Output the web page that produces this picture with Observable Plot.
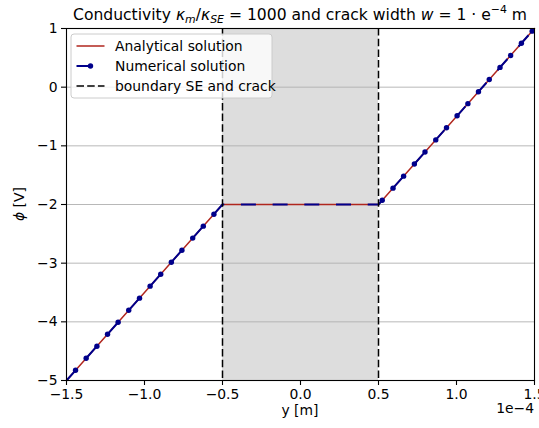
<!DOCTYPE html>
<html>
<head>
<meta charset="utf-8">
<script src="https://cdn.jsdelivr.net/npm/d3@7"></script>
<script src="https://cdn.jsdelivr.net/npm/@observablehq/plot@0.6"></script>
<style>
  body { margin: 0; background: #fff; }
  #chart { position: relative; width: 539px; height: 428px; }
  #chart svg { display: block; }
</style>
</head>
<body>
<div id="chart"></div>
<script>
// Axis ticks (y in units of 1e-4 m, potential in V)
const xTicks = [-1.5, -1.0, -0.5, 0.0, 0.5, 1.0, 1.5];
const yTicks = [-5, -4, -3, -2, -1, 0, 1];

// Crack boundaries (SE | crack | SE)
const crackEdges = [-0.5, 0.5];

// Analytical solution: piecewise linear potential
const analyticY   = [-1.5, -0.5, 0.5, 1.5];
const analyticPhi = [-5.0, -2.0, -2.0, 1.0];

// Numerical solution: nodes in the left electrolyte
const numLeftY   = [-1.442, -1.374, -1.305, -1.237, -1.169, -1.101, -1.032, -0.964, -0.896, -0.828, -0.760, -0.691, -0.623, -0.555];
const numLeftPhi = [-4.826, -4.622, -4.415, -4.211, -4.007, -3.803, -3.596, -3.392, -3.188, -2.984, -2.780, -2.573, -2.369, -2.165];
// inside the crack
const numCrackY   = [-0.5, 0.5];
const numCrackPhi = [-2.0, -2.0];
// right electrolyte
const numRightY   = [0.524, 0.593, 0.661, 0.730, 0.798, 0.867, 0.936, 1.004, 1.073, 1.141, 1.210, 1.279, 1.347, 1.416, 1.485];
const numRightPhi = [-1.928, -1.721, -1.517, -1.310, -1.106, -0.899, -0.692, -0.488, -0.281, -0.077, 0.130, 0.337, 0.541, 0.748, 0.955];
// start of the numerical curve at the domain edge
const numStartY = -1.5, numStartPhi = -5.0;

const RED = "#b0261e", BLUE = "#00008b";
const FONT = "DejaVu Sans, sans-serif";
const NUM_DASH = "15,16.7";
const EDGE_DASH = "7.5,3.2";

const analytic = analyticY.map((y, i) => ({y, phi: analyticPhi[i]}));
const leftPts  = numLeftY.map((y, i) => ({y, phi: numLeftPhi[i]}));
const crackPts = numCrackY.map((y, i) => ({y, phi: numCrackPhi[i]}));
const rightPts = numRightY.map((y, i) => ({y, phi: numRightPhi[i]}));
const numerical = [{y: numStartY, phi: numStartPhi}, ...leftPts, ...crackPts, ...rightPts];
const marked = [...leftPts, ...rightPts];

const plot = Plot.plot({
  width: 539,
  height: 428,
  marginLeft: 66,
  marginRight: 5,
  marginTop: 28,
  marginBottom: 48,
  x: {domain: [xTicks[0], xTicks[xTicks.length - 1]]},
  y: {domain: [yTicks[0], yTicks[yTicks.length - 1]]},
  style: {fontFamily: FONT, fontSize: "13.9px", background: "white", color: "black", overflow: "visible"},
  marks: [
    Plot.rect([crackEdges], {
      x1: d => d[0], x2: d => d[1],
      y1: () => yTicks[0], y2: () => yTicks[yTicks.length - 1],
      fill: "#dddddd"
    }),
    Plot.gridY(yTicks, {stroke: "#b0b0b0", strokeOpacity: 1, strokeWidth: 0.9}),
    Plot.line(analytic, {x: "y", y: "phi", stroke: RED, strokeWidth: 1.5}),
    Plot.line(numerical, {x: "y", y: "phi", stroke: BLUE, strokeWidth: 2, strokeDasharray: NUM_DASH, strokeLinecap: "butt"}),
    Plot.dot(marked, {x: "y", y: "phi", r: 2.7, fill: BLUE, stroke: "none", clip: true}),
    Plot.ruleX(crackEdges, {stroke: "black", strokeWidth: 1.5, strokeDasharray: EDGE_DASH}),
    Plot.frame({stroke: "black", strokeWidth: 1.1}),
    Plot.axisX({ticks: xTicks, tickSize: 5, tickPadding: 4, tickFormat: d3.format(".1f"), label: null, fontSize: 13.9, strokeWidth: 1.1}),
    Plot.axisY({ticks: yTicks, tickSize: 5, tickPadding: 4, tickFormat: d3.format("d"), label: null, fontSize: 13.9, strokeWidth: 1.1})
  ]
});

document.getElementById("chart").appendChild(plot);

const svg = d3.select(plot);
const X0 = 66, X1 = 534, Y0 = 28, Y1 = 380, XC = (X0 + X1) / 2;

// Title with math-style sub/superscripts
const TITLE_WIDTH = 454;
const title = svg.append("text")
  .attr("x", XC).attr("y", 20)
  .attr("text-anchor", "middle")
  .attr("font-family", FONT).attr("fill", "black");
const parts = [
  ["Conductivity ", {}],
  ["κ", {italic: true}],
  ["m", {italic: true, sub: true}],
  ["/", {}],
  ["κ", {italic: true}],
  ["SE", {italic: true, sub: true}],
  [" = 1000 and crack width ", {}],
  ["w", {italic: true}],
  [" = 1 · e", {}],
  ["−4", {sup: true}],
  [" m", {}]
];
function drawTitle(fs) {
  title.selectAll("tspan").remove();
  title.attr("font-size", fs);
  let shift = 0;
  for (const [txt, o] of parts) {
    const t = title.append("tspan").text(txt);
    if (o.italic) t.attr("font-style", "italic");
    let dy = 0;
    if (o.sub) { t.attr("font-size", fs * 0.7); dy = fs * 0.21 - shift; shift = fs * 0.21; }
    else if (o.sup) { t.attr("font-size", fs * 0.7); dy = -fs * 0.42 - shift; shift = -fs * 0.42; }
    else if (shift !== 0) { dy = -shift; shift = 0; }
    if (dy) t.attr("dy", dy);
  }
}
drawTitle(16.7);
const w0 = title.node().getComputedTextLength();
if (w0 > 0) drawTitle(16.7 * TITLE_WIDTH / w0);

// Axis labels and offset text
svg.append("text")
  .attr("x", XC).attr("y", 415)
  .attr("text-anchor", "middle")
  .attr("font-family", FONT).attr("font-size", 13.9)
  .text("y [m]");
svg.append("text")
  .attr("x", X1).attr("y", 413)
  .attr("text-anchor", "end")
  .attr("font-family", FONT).attr("font-size", 13.9)
  .text("1e−4");
const yl = svg.append("text")
  .attr("transform", `translate(24,${(Y0 + Y1) / 2}) rotate(-90)`)
  .attr("text-anchor", "middle")
  .attr("font-family", FONT).attr("font-size", 13.9);
yl.append("tspan").attr("font-style", "italic").text("ϕ");
yl.append("tspan").text(" [V]");

// Legend
const lg = svg.append("g").attr("text-anchor", "start");
lg.append("rect")
  .attr("x", 71).attr("y", 34).attr("width", 201).attr("height", 64)
  .attr("rx", 3).attr("fill", "white").attr("fill-opacity", 0.8)
  .attr("stroke", "#cccccc").attr("stroke-width", 1);
const rows = [46, 66, 86];
const hx0 = 76.5, hx1 = 104.5, tx = 115;
lg.append("line").attr("x1", hx0).attr("x2", hx1).attr("y1", rows[0]).attr("y2", rows[0])
  .attr("stroke", RED).attr("stroke-width", 1.5);
lg.append("line").attr("x1", hx0).attr("x2", hx1).attr("y1", rows[1]).attr("y2", rows[1])
  .attr("stroke", BLUE).attr("stroke-width", 2).attr("stroke-dasharray", NUM_DASH);
lg.append("circle").attr("cx", (hx0 + hx1) / 2).attr("cy", rows[1]).attr("r", 2.7).attr("fill", BLUE);
lg.append("line").attr("x1", hx0).attr("x2", hx1).attr("y1", rows[2]).attr("y2", rows[2])
  .attr("stroke", "black").attr("stroke-width", 1.5).attr("stroke-dasharray", EDGE_DASH);
const labels = ["Analytical solution", "Numerical solution", "boundary SE and crack"];
labels.forEach((s, i) => {
  lg.append("text").attr("x", tx).attr("y", rows[i]).attr("dy", "0.36em")
    .attr("text-anchor", "start")
    .attr("font-family", FONT).attr("font-size", 13.9).attr("fill", "black").text(s);
});
</script>
</body>
</html>
